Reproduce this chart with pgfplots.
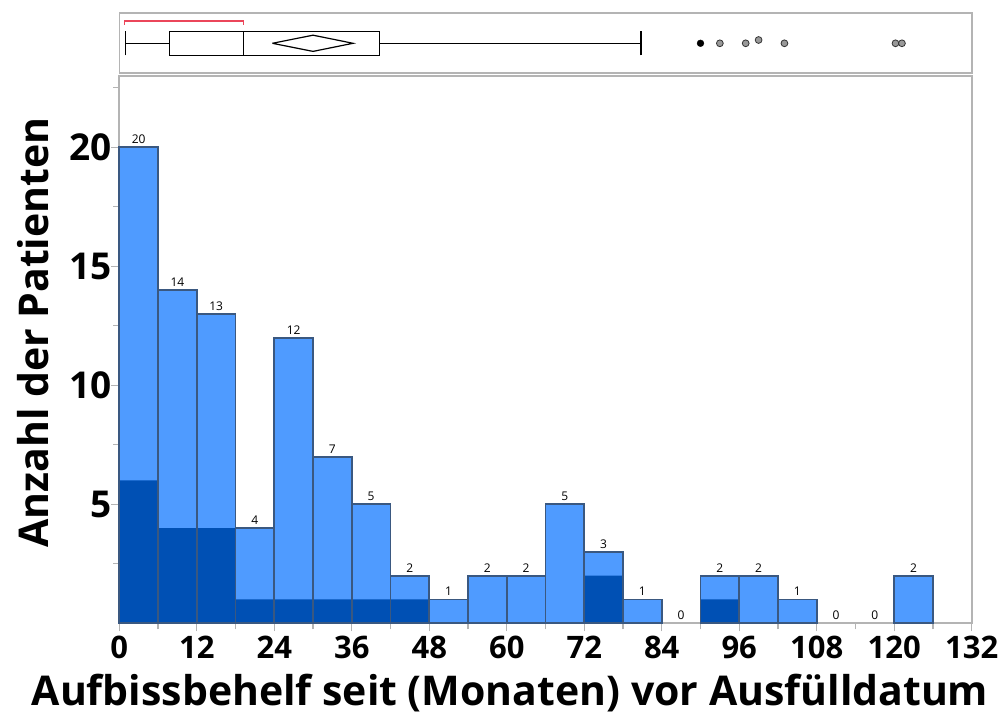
\documentclass[border=0pt]{standalone}
\usepackage{pgfplots}
\pgfplotsset{compat=1.18}
\usepgfplotslibrary{statistics}
\usepackage{fontspec}
\setmainfont{Open Sans}

\definecolor{barlight}{RGB}{79,155,255}
\definecolor{bardark}{RGB}{0,80,180}
\definecolor{baredge}{RGB}{58,88,128}
\definecolor{framegray}{RGB}{180,180,180}
\definecolor{shorthalf}{RGB}{235,70,90}

% histogram counts per 6-month bin (bin centres)
\pgfplotstableread{
x   n
3   20
9   14
15  13
21  4
27  12
33  7
39  5
45  2
51  1
57  2
63  2
69  5
75  3
81  1
87  0
93  2
99  2
105 1
111 0
117 0
123 2
}\allbins

\begin{document}
\begin{tikzpicture}
\useasboundingbox (0pt,0pt) rectangle (1005pt,715pt);

% ---- box plot panel ----
\begin{axis}[
  at={(119.3pt,641.7pt)}, anchor=south west,
  width=852.4pt, height=60pt, scale only axis,
  xmin=0, xmax=132, ymin=0, ymax=1,
  xtick=\empty, ytick=\empty,
  axis line style={draw=framegray, line width=1.6pt},
  clip=false,
]
\addplot[black, line width=1.2pt, solid,
  boxplot prepared={lower whisker=0.93, lower quartile=7.77, median=19.2,
    upper quartile=40.3, upper whisker=80.8,
    draw position=0.5, box extend=0.4, whisker extend=0.4}]
  coordinates {};
% mean diamond
\addplot[black, line width=1.2pt, mark=none]
  coordinates {(23.7,0.5) (30,0.635) (36.2,0.5) (30,0.365) (23.7,0.5)};
% shortest half
\addplot[shorthalf, line width=1.4pt, mark=none]
  coordinates {(0.8,0.81) (0.8,0.87) (19.2,0.87) (19.2,0.81)};
% outliers
\addplot[only marks, mark=*, mark size=3.4pt,
  mark options={fill=black, draw=black}] coordinates {(90,0.5)};
\addplot[only marks, mark=*, mark size=3.4pt,
  mark options={fill=black!40, draw=black!80, line width=0.8pt}]
  coordinates {(93,0.5) (97,0.5) (99,0.555) (103,0.5) (120.2,0.5) (121.2,0.5)};
\end{axis}

% ---- histogram ----
\begin{axis}[
  at={(119.3pt,91.7pt)}, anchor=south west,
  width=852.4pt, height=547.4pt, scale only axis,
  xmin=0, xmax=132, ymin=0, ymax=23,
  ybar, bar width=6,
  axis line style={draw=framegray, line width=1.6pt},
  xtick={0,12,...,132}, minor xtick={6,18,...,126},
  ytick={5,10,15,20}, minor ytick={2.5,7.5,...,22.5},
  tick align=outside, tick pos=left,
  tick style={draw=framegray, line width=1.2pt},
  major tick length=8pt, minor tick length=6pt,
  /pgf/number format/assume math mode=true,
  xticklabel style={font=\fontsize{31}{31}\selectfont\bfseries, yshift=-1pt},
  yticklabel style={font=\fontsize{37}{37}\selectfont\bfseries, xshift=4pt},
  xlabel={Aufbissbehelf seit (Monaten) vor Ausfülldatum},
  ylabel={Anzahl der Patienten},
  xlabel style={font=\fontsize{41}{41}\selectfont\bfseries,
    at={(axis description cs:0.4584,-0.1493)}, anchor=base},
  ylabel style={font=\fontsize{41}{41}\selectfont\bfseries,
    at={(axis description cs:-0.0836,0.531)}, anchor=base},
  clip=false,
]
% light fill of the full counts
\addplot[bar shift=0pt, fill=barlight, draw=none] coordinates {
  (3,20) (9,14) (15,13) (21,4) (27,12) (33,7) (39,5) (45,2) (51,1)
  (57,2) (63,2) (69,5) (75,3) (81,1) (93,2) (99,2) (105,1) (123,2)};
% dark subset
\addplot[bar shift=0pt, fill=bardark, draw=none] coordinates {
  (3,6) (9,4) (15,4) (21,1) (27,1) (33,1) (39,1) (45,1) (75,2) (93,1)};
% bar outlines
\addplot[bar shift=0pt, fill=none, draw=baredge, line width=1.9pt] coordinates {
  (3,20) (9,14) (15,13) (21,4) (27,12) (33,7) (39,5) (45,2) (51,1)
  (57,2) (63,2) (69,5) (75,3) (81,1) (93,2) (99,2) (105,1) (123,2)};
% count labels
\addplot[bar shift=0pt, draw=none, fill=none,
  nodes near coords,
  nodes near coords style={font=\fontsize{12}{12}\selectfont, black,
    anchor=south, yshift=0pt}]
  table[x=x, y=n] {\allbins};
\end{axis}
\end{tikzpicture}
\end{document}
